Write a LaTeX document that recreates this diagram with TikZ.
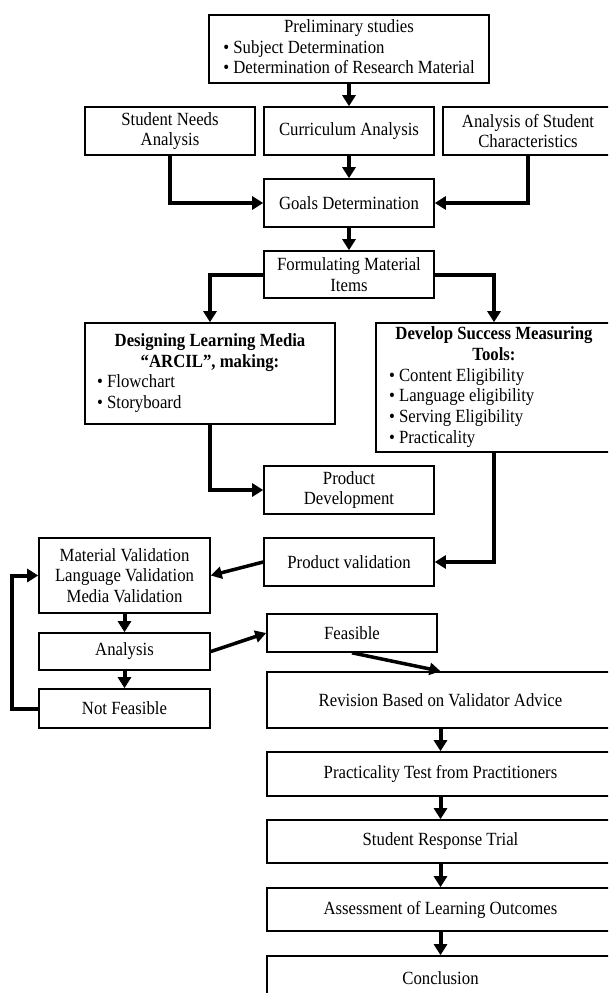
\documentclass[tikz,border=0pt]{standalone}
\usepackage{fontspec}
\setmainfont[FakeStretch=0.9]{Liberation Serif}
\usetikzlibrary{arrows.meta}
\begin{document}
\begin{tikzpicture}[x=1pt,y=-1pt,
 box/.style={draw, line width=1.6pt, inner sep=0pt, align=center, font=\fontsize{18.6}{20.7}\selectfont},
 arr/.style={line width=4pt, -{Triangle[length=11pt,width=13pt]}},
 sarr/.style={line width=3.5pt, -{Triangle[length=11pt,width=12pt]}}]
\useasboundingbox (0,0) rectangle (608,993);
\clip (0,0) rectangle (608,993);
\fill[white] (0,0) rectangle (608,993);

\node[box, minimum width=280pt, minimum height=68pt] (prelim) at (349,49)
 {\begin{tabular}{@{}l@{}}\multicolumn{1}{@{}c@{}}{Preliminary studies}\\• Subject Determination\\• Determination of Research Material\end{tabular}};
\node[box, minimum width=170pt, minimum height=48pt] (needs) at (170,131) {Student Needs\\Analysis};
\node[box, minimum width=170pt, minimum height=48pt] (curr) at (349,131) {Curriculum Analysis};
\node[box, minimum width=170pt, minimum height=48pt] (charac) at (528,131) {Analysis of Student\\Characteristics};
\node[box, minimum width=170pt, minimum height=48pt] (goals) at (349,203) {Goals Determination};
\node[box, minimum width=170pt, minimum height=47pt] (form) at (349,274.5) {Formulating Material\\Items};

\node[box, minimum width=250pt, minimum height=101pt] (design) at (210,373.5)
 {\begin{tabular}{@{}p{226pt}@{}}\multicolumn{1}{@{}c@{}}{\textbf{Designing Learning Media}}\\\multicolumn{1}{@{}c@{}}{\textbf{“ARCIL”, making:}}\\• Flowchart\\• Storyboard\end{tabular}};
\node[box, minimum width=236pt, minimum height=129pt] (develop) at (494,387.5)
 {\begin{tabular}{@{}p{210pt}@{}}\multicolumn{1}{@{}c@{}}{\textbf{Develop Success Measuring}}\\\multicolumn{1}{@{}c@{}}{\textbf{Tools:}}\\• Content Eligibility\\• Language eligibility\\• Serving Eligibility\\• Practicality\end{tabular}};

\node[box, minimum width=170pt, minimum height=48pt] (pdev) at (349,490) {Product\\Development};
\node[box, minimum width=170pt, minimum height=48pt] (pval) at (349,562) {Product validation};

\node[box, minimum width=171pt, minimum height=75pt] (mval) at (124.5,575.5) {Material Validation\\Language Validation\\Media Validation};
\node[box, minimum width=171pt, minimum height=37pt] (anal) at (124.5,651.5) {Analysis};
\node[box, minimum width=171pt, minimum height=39pt] (notf) at (124.5,708.5) {Not Feasible};
\node[box, minimum width=170pt, minimum height=38pt] (feas) at (352,633) {Feasible};

\node[box, minimum width=347pt, minimum height=56pt] (rev) at (440.5,700) {Revision Based on Validator Advice};
\node[box, minimum width=347pt, minimum height=44pt] (prac) at (440.5,774) {Practicality Test from Practitioners};
\node[box, minimum width=347pt, minimum height=43pt] (resp) at (440.5,841.5) {Student Response Trial};
\node[box, minimum width=347pt, minimum height=43pt] (assess) at (440.5,909.5) {Assessment of Learning Outcomes};
\node[box, minimum width=347pt, minimum height=44pt] (concl) at (440.5,978) {Conclusion};

\draw[arr] (prelim.south) -- (curr.north);
\draw[arr] (curr.south) -- (goals.north);
\draw[arr] (needs.south) |- (goals.west);
\draw[arr] (charac.south) |- (goals.east);
\draw[arr] (goals.south) -- (form.north);
\draw[arr] (form.west) -| (design.north);
\draw[arr] (form.east) -| (develop.north);
\draw[arr] (design.south) |- (pdev.west);
\draw[arr] (develop.south) |- (pval.east);
\draw[sarr] (pval.west) -- (mval.east);
\draw[arr] (mval.south) -- (anal.north);
\draw[arr] (anal.south) -- (notf.north);
\draw[arr] (notf.west) -- ++(-26,0) |- (mval.west);
\draw[sarr] (anal.east) -- (feas.west);
\draw[sarr] (feas.south) -- (rev.north);
\draw[arr] (rev.south) -- (prac.north);
\draw[arr] (prac.south) -- (resp.north);
\draw[arr] (resp.south) -- (assess.north);
\draw[arr] (assess.south) -- (concl.north);
\end{tikzpicture}
\end{document}
